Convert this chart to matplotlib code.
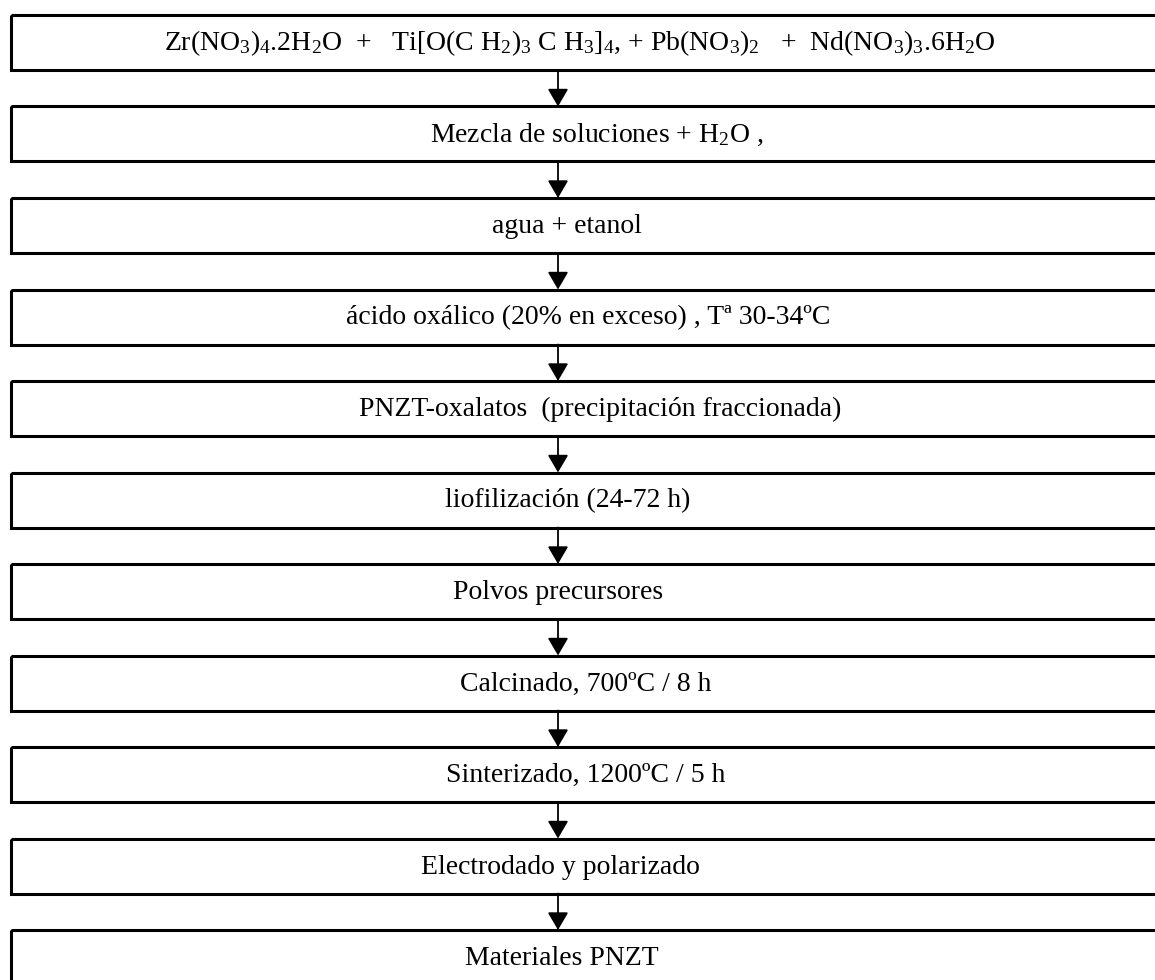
import matplotlib.pyplot as plt
from matplotlib.patches import Rectangle

plt.rcParams["font.family"] = ["Liberation Serif", "DejaVu Serif"]
plt.rcParams["mathtext.fontset"] = "custom"
plt.rcParams["mathtext.rm"] = "Liberation Serif"
plt.rcParams["mathtext.it"] = "Liberation Serif:italic"

# pasos del diagrama de flujo (de arriba hacia abajo)
steps = [
    r"Zr(NO$_3$)$_4$.2H$_2$O  +   Ti[O(C H$_2$)$_3$ C H$_3$]$_4$, + Pb(NO$_3$)$_2$   +  Nd(NO$_3$)$_3$.6H$_2$O",
    r"Mezcla de soluciones + H$_2$O ,",
    "agua + etanol",
    "ácido oxálico (20% en exceso) , Tª 30-34ºC",
    "PNZT-oxalatos  (precipitación fraccionada)",
    "liofilización (24-72 h)",
    "Polvos precursores",
    "Calcinado, 700ºC / 8 h",
    "Sinterizado, 1200ºC / 5 h",
    "Electrodado y polarizado",
    "Materiales PNZT",
]

# layout en pixeles
W, H = 1155, 980
box_left, box_right = 11, 1170
top0, pitch, box_h = 15, 91.5, 55
arrow_x = 558
text_x = [580, 597, 567, 588, 600, 568, 558, 586, 586, 560, 562]

fig = plt.figure(figsize=(W / 100, H / 100), dpi=100)
ax = fig.add_axes([0, 0, 1, 1])
ax.set_xlim(0, W)
ax.set_ylim(H, 0)
ax.axis("off")

for i, label in enumerate(steps):
    top = top0 + i * pitch
    ax.add_patch(Rectangle((box_left, top), box_right - box_left, box_h,
                           fill=False, edgecolor="black", linewidth=2.2))
    ax.text(text_x[i], top + box_h / 2 + 1, label, ha="center", va="center",
            fontsize=20, color="black")
    if i < len(steps) - 1:
        ax.annotate("", xy=(arrow_x, top0 + (i + 1) * pitch),
                    xytext=(arrow_x, top + box_h),
                    arrowprops=dict(arrowstyle="-|>,head_length=0.6,head_width=0.35",
                                    mutation_scale=18, lw=1.3, color="black",
                                    shrinkA=0, shrinkB=0))

fig.savefig("out.png", dpi=100, facecolor="white")
